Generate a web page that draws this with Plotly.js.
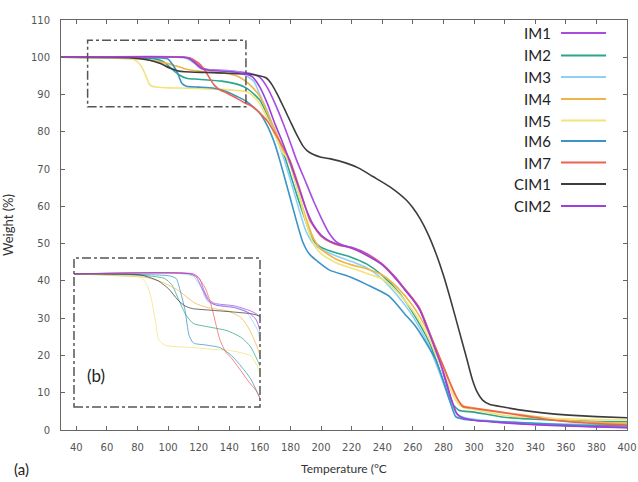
<!DOCTYPE html>
<html><head><meta charset="utf-8">
<script src="https://cdn.plot.ly/plotly-3.0.1.min.js"></script>
<style>html,body{margin:0;padding:0;background:#fff}#chart{width:638px;height:482px}</style>
</head><body><div id="chart"></div>
<script>
// ---- data ----
const seriesNames = ["IM1","IM2","IM3","IM4","IM5","IM6","IM7","CIM1","CIM2"];
const seriesColors = ["#a94ae3","#2ca58d","#8fd0f2","#f0b548","#f2e37a","#3b93c6","#ec6450","#3c3c3c","#9d3fdc"];

const im1T = [30,112,116,119,122,126,140,150,155,160,165,170,175,180,184,190,195,200,205,210,215,220,230,240,250,255,260,265,270,275,280,284,288,292,300,320,340,360,380,400];
const im1W = [100,100,99.5,98.2,97.2,96.7,96.4,95.9,95.5,94.6,91.8,87.5,82.5,77,72.4,66.5,61.5,57,53,50.5,49.5,49,47.3,44.5,40.3,37.5,35,32,27,21.5,15,9.5,4.8,3.4,2.7,2.0,1.5,1.2,0.9,0.7];

const im2T = [30,80,92,97,102,107,112,120,135,145,151,157,160,165,170,177,180,185,190,194.6,200,210,218.7,230,240,251.3,260,271,280,285,290,300,320,340,360,380,400];
const im2W = [100,99.8,99.5,98.8,97,95.3,94.4,94.1,93.6,92.8,91.8,89.8,88.5,84.5,80,72.4,68.5,62,56,51,49,47.5,46.5,44.5,41.5,36.7,31.5,23.3,13,7.5,5.3,4.8,3.4,2.9,2.5,2.3,2.2];

const im3T = [30,105,112,117,121,125,140,148,152,156,160,165,170,176,180,185,190,195,200,210,220,230,240,250,260,270,280,285,289,295,300,320,340,360,380,400];
const im3W = [100,100,99.7,98.5,97,96.6,96.3,95.8,94.8,93.6,90,85.5,79.5,72.4,67,60,53.5,50,48.5,46.7,45.2,43.5,40.5,36,30.5,23,12.5,7,4.2,3.2,2.9,2.2,1.8,1.6,1.5,1.5];

const im4T = [30,60,80,90,100,105,113,122,136,145,150,155,160,165,170,175,180,185,190,195,200,210,220,230,240,250,260,270,280,288,293,300,320,340,360,380,400];
const im4W = [100,99.8,99.6,99.1,98.3,97.7,96.7,96.2,95.8,95,93.8,92,89.5,85,80.5,75.5,71,64,57,51.5,48.5,45.8,44.3,43.2,41.6,38.2,33.3,26.3,17,9,6.5,5.9,4.7,3.6,2.7,2.1,1.7];

const im5T = [30,70,76,80,83,86,88,92,100,113,125,136,145,151,155,160,165,170,175,179,185,190,195,200,210,220,230,240,250,260,270,280,288,293,300,320,340,360,380,400];
const im5W = [100,99.8,99.6,98.8,97.2,94.5,92.6,92,91.8,91.7,91.5,91.4,91.1,90.8,89.8,87.5,83.5,79,74.5,72.4,64,56,50,47.3,44.8,43.4,42,40.5,37,32,25,15.5,8,6,5.5,3.9,3.3,3.0,2.8,2.7];

const im6T = [30,95,100,103,106,109,112,120,130,138,145,151,160,165,170,173,178,182,185,188,191,194,197,205.6,218.7,230,244.8,255,262,275,284,288,293,300,320,340,360,380,400];
const im6W = [100,99.8,99.5,98,96,93,92.2,92,91.7,90.8,89.5,88.2,85,81.5,76.5,72.4,65,59,54.5,50.5,48,46.5,45.5,42.9,41.1,39,35.8,31,27.7,18.8,8,3.6,2.9,2.6,2.2,1.8,1.4,1.2,1.1];

const im7T = [30,110,115,120,124,127,130,134,138,143,150,155,160,165,170,175,179.6,185,190,192.6,200,205.6,212,218.7,230,240,253.5,264,271,280,284,289,292.6,300,320,330,345,362,380,400];
const im7W = [100,100,99.6,98.4,96.5,94.5,92.6,91.2,90.5,89.4,87.8,86.8,85,82.8,79.5,76,72.4,66,59.5,56.3,52,50.5,49.5,49,47,44.5,38.5,33,26,17,13,8.5,6.3,5.8,4.6,4.0,3.0,2.2,1.7,1.3];

const cim1T = [30,75,82,88,95,101,106,111,125,140,152,158,164,168,172,176,180,184,188,191,195,200,205.6,216.5,225,233.9,244.8,255.7,260,265,270,275,280,285,290,295,299,302,305.6,310,320,329.6,345,362,380,400];
const cim1W = [100,99.9,99.6,99.2,98.3,97.1,96.4,96.1,95.9,95.7,95.5,95.2,94.5,92.6,89.6,86.2,82.7,79.3,76.3,74.9,73.9,73.2,72.8,71.6,70.2,68,65.3,61.7,59.6,56.5,52.5,47.5,41.5,34.5,27,19.5,13.4,10.2,8,6.9,6.1,5.4,4.6,4.0,3.6,3.3];

const cim2T = [30,110,114,118,122,127,140,150,155,160,165,170,175,180,185,190,195,200,206,212,220,230,240,253.5,264,271,280,285,289,293,300,320,340,360,380,400];
const cim2W = [100,100,99.6,98.3,97,96.5,96.2,95.6,94.8,92,87.5,82,77,71.5,65.5,59.5,55,52.3,50.6,49.7,48.8,46.8,44.3,38.3,32.6,25.6,15.5,8.5,4.2,3.2,2.6,1.9,1.4,1.1,0.8,0.6];

const xTicks = [40,60,80,100,120,140,160,180,200,220,240,260,280,300,320,340,360,380,400];
const yTicks = [0,10,20,30,40,50,60,70,80,90,100,110];

const seriesT = [im1T,im2T,im3T,im4T,im5T,im6T,im7T,cim1T,cim2T];
const seriesW = [im1W,im2W,im3W,im4W,im5W,im6W,im7W,cim1W,cim2W];

// ---- traces ----
const traces = [];
seriesNames.forEach((n,i)=>{
  traces.push({x:seriesT[i], y:seriesW[i], name:n, type:'scatter', mode:'lines',
    line:{color:seriesColors[i], width:1.6, shape:'spline', smoothing:0.6},
    showlegend:false, hoverinfo:'skip', xaxis:'x', yaxis:'y'});
});
seriesNames.forEach((n,i)=>{
  traces.push({x:seriesT[i], y:seriesW[i], name:n+' (b)', type:'scatter', mode:'lines',
    line:{color:seriesColors[i], width:1, shape:'spline', smoothing:0.6},
    opacity:0.75, showlegend:false, hoverinfo:'skip', xaxis:'x2', yaxis:'y2'});
});

// ---- layout ----
const L=61, R=11, T=20, B=52, W=638, H=482;
const pw=W-L-R, ph=H-T-B;
const px2p = x => (x-L)/pw;
const py2p = y => (H-B-y)/ph;

const legendY = [33,55.5,77,99,120.5,141,162.5,184,206];
const annotations = [];
const shapes = [];
seriesNames.forEach((n,i)=>{
  annotations.push({xref:'paper', yref:'paper', x:px2p(553), y:py2p(legendY[i]), xanchor:'right', yanchor:'middle',
    text:n, showarrow:false, font:{family:'Lato, Open Sans, sans-serif', size:15, color:'#222'}});
  shapes.push({type:'line', xref:'paper', yref:'paper', x0:px2p(561), x1:px2p(606), y0:py2p(legendY[i]), y1:py2p(legendY[i]),
    line:{color:seriesColors[i], width:1.8}});
});
// zoom rectangle in main plot
shapes.push({type:'rect', xref:'x', yref:'y', x0:47.4, x1:150.9, y0:86.7, y1:104.6,
  line:{color:'#555', width:1.5, dash:'dashdot'}});
// inset frame
shapes.push({type:'rect', xref:'paper', yref:'paper', x0:px2p(74), x1:px2p(260), y0:py2p(407), y1:py2p(258),
  line:{color:'#555', width:1.5, dash:'dashdot'}});

annotations.push({xref:'paper', yref:'paper', x:px2p(85), y:py2p(375), xanchor:'left', yanchor:'middle',
  text:'(b)', showarrow:false, font:{family:'Lato, Open Sans, sans-serif', size:17, color:'#222'}});
annotations.push({xref:'paper', yref:'paper', x:px2p(12), y:py2p(469), xanchor:'left', yanchor:'middle',
  text:'(a)', showarrow:false, font:{family:'Lato, Open Sans, sans-serif', size:15, color:'#222'}});

const tickFont = {family:'DejaVu Sans, sans-serif', size:10, color:'#555'};
const layout = {
  width:W, height:H, margin:{l:L, r:R, t:T, b:B, pad:0},
  paper_bgcolor:'#fff', plot_bgcolor:'#fff', showlegend:false,
  xaxis:{range:[30,400], tickvals:xTicks, ticktext:xTicks.map(String), ticks:'inside', ticklen:4, tickcolor:'#666',
    showline:true, linecolor:'#666', linewidth:1, mirror:'ticks', showgrid:false, zeroline:false,
    tickfont:tickFont, ticklabelstandoff:8,
    title:{text:'Temperature (°C', font:{family:'Lato, Open Sans, sans-serif', size:12, color:'#333'}, standoff:12}},
  yaxis:{range:[0,110], tickvals:yTicks, ticktext:yTicks.map(String), ticks:'inside', ticklen:4, tickcolor:'#666',
    showline:true, linecolor:'#666', linewidth:1, mirror:'ticks', showgrid:false, zeroline:false,
    tickfont:tickFont, ticklabelstandoff:8,
    title:{text:'Weight (%)', font:{family:'Lato, Open Sans, sans-serif', size:13, color:'#333'}, standoff:14}},
  xaxis2:{domain:[px2p(74),px2p(260)], range:[30,157.5], anchor:'y2', visible:false, showgrid:false, zeroline:false},
  yaxis2:{domain:[py2p(407),py2p(258)], range:[85,101.8], anchor:'x2', visible:false, showgrid:false, zeroline:false},
  shapes:shapes, annotations:annotations
};
Plotly.newPlot('chart', traces, layout, {staticPlot:true, displayModeBar:false});
</script>
</body></html>
